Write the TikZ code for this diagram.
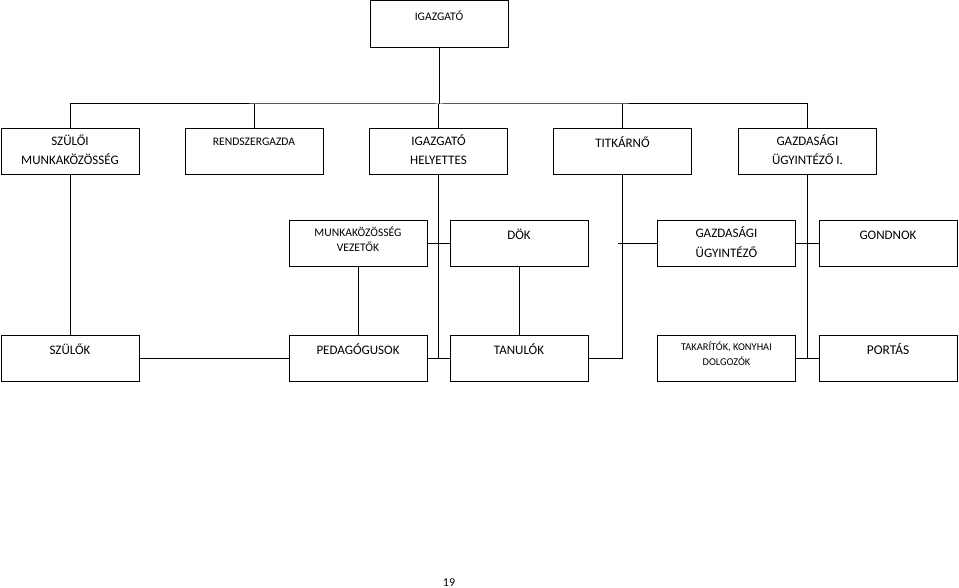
\documentclass[tikz,border=0pt]{standalone}
\usepackage{fontspec}
\setmainfont{Carlito}
\usepackage{tikz}
\usetikzlibrary{positioning,calc}

\newcommand{\tstrut}{\rule{0pt}{13pt}}

\begin{document}
\begin{tikzpicture}[x=1pt,y=-1pt,
    box/.style={draw, line width=1pt, minimum width=138pt, minimum height=46.5pt, inner sep=0pt},
    txt/.style={anchor=north, inner sep=0pt, align=center, yshift=-7pt, execute at begin node=\tstrut},
    big/.style={font=\fontsize{13}{18.5}\selectfont},
    mid/.style={font=\fontsize{11.6}{15}\selectfont},
    small/.style={font=\fontsize{10.4}{15}\selectfont},
    conn/.style={line width=1pt}]
    \useasboundingbox (0,0) rectangle (959,588);

    % top
    \node[box, label={[txt,mid]north:IGAZGATÓ}] (dir) at (439,24) {};

    % second row
    \node[box, label={[txt,big]north:{SZÜLŐI\\MUNKAKÖZÖSSÉG}}] (szm) at (70,151.5) {};
    \node[box, label={[txt,mid,yshift=2pt]north:RENDSZERGAZDA}] (rg) at (254,151.5) {};
    \node[box, label={[txt,big]north:{IGAZGATÓ\\HELYETTES}}] (ih) at (438.5,151.5) {};
    \node[box, label={[txt,big]north:TITKÁRNŐ}] (tit) at (622.5,151.5) {};
    \node[box, label={[txt,big]north:{GAZDASÁGI\\ÜGYINTÉZŐ I.}}] (gi) at (807.5,151.5) {};

    % third row
    \node[box, label={[txt,mid]north:{MUNKAKÖZÖSSÉG\\VEZETŐK}}] (mv) at (358,243.5) {};
    \node[box, label={[txt,big]north:DÖK}] (dok) at (519,243.5) {};
    \node[box, label={[txt,big,font=\fontsize{13}{20}\selectfont]north:{GAZDASÁGI\\ÜGYINTÉZŐ}}] (gu) at (726.5,243.5) {};
    \node[box, label={[txt,big]north:GONDNOK}] (gon) at (888,243.5) {};

    % bottom row
    \node[box, label={[txt,big]north:SZÜLŐK}] (sz) at (70,358.5) {};
    \node[box, label={[txt,big]north:PEDAGÓGUSOK}] (ped) at (358,358.5) {};
    \node[box, label={[txt,big]north:TANULÓK}] (tan) at (519,358.5) {};
    \node[box, label={[txt,small]north:{TAKARÍTÓK, KONYHAI\\DOLGOZÓK}}] (tak) at (726.5,358.5) {};
    \node[box, label={[txt,big,font=\fontsize{13.4}{18.5}\selectfont]north:PORTÁS}] (por) at (888,358.5) {};

    \node[font=\fontsize{12}{14}\selectfont, anchor=base] (pg) at (449,586) {19};

    % bus under the director
    \coordinate (bus) at (439,104);
    \draw[conn] (dir.south) -- (bus);
    \draw[conn] (szm.north) |- (bus) -| (gi.north);
    \foreach \n in {rg,ih,tit}
        \draw[conn] (\n.north) -- (\n.north |- bus);

    % downward links
    \draw[conn] (szm.south) -- (sz.north);
    \draw[conn] (ih.south) -- (ih.south |- ped.east);
    \draw[conn] (tit.south) |- (tan.east);
    \draw[conn] (gi.south) |- (por.west);
    \draw[conn] (mv.south) -- (ped.north);
    \draw[conn] (dok.south) -- (tan.north);

    % side links
    \draw[conn] (mv.east) -- (dok.west);
    \draw[conn] (gu.west) -- ([xshift=-5pt]gu.west -| tit.south);
    \draw[conn] (gu.east) -- (gon.west);
    \draw[conn] (sz.east) -- (ped.west);
    \draw[conn] (ped.east) -- (tan.west);
    \draw[conn] (tak.east) -- (por.west);
\end{tikzpicture}
\end{document}
